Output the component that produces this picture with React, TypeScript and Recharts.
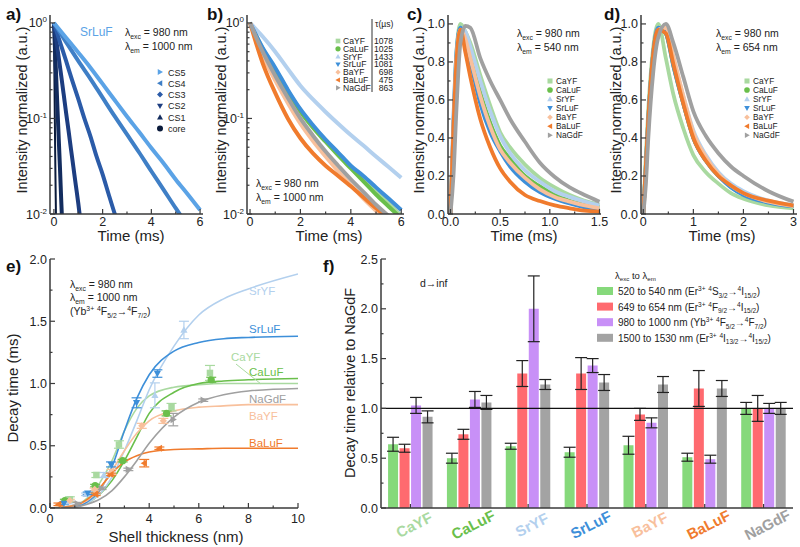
import React from "react";
import { ComposedChart, Line, Scatter, Bar, XAxis, YAxis, ErrorBar, ReferenceLine } from "recharts";

const W = 800;
const H = 547;
const FONT = '"Liberation Sans", Arial, Helvetica, sans-serif';
const AX = "#3a3a3a";

// hosts shared by panels b-f
const hosts = ["CaYF", "CaLuF", "SrYF", "SrLuF", "BaYF", "BaLuF", "NaGdF"];
const hostColor: Record<string, string> = {
  CaYF: "#a9d9a0", CaLuF: "#6abf4b", SrYF: "#b3d0ee", SrLuF: "#3d8fd9",
  BaYF: "#f8c09c", BaLuF: "#f07b2d", NaGdF: "#a0a0a0",
};
const hostShape: Record<string, string> = {
  CaYF: "square", CaLuF: "circle", SrYF: "triUp", SrLuF: "triDown",
  BaYF: "diamond", BaLuF: "triLeft", NaGdF: "triRight",
};

// a) SrLuF core / shells, 980 -> 1000 nm
const csNames = ["CS5", "CS4", "CS3", "CS2", "CS1", "core"];
const csColor: Record<string, string> = {
  CS5: "#5ba3e6", CS4: "#3f7fc6", CS3: "#2b5ba8", CS2: "#1d3d80", CS1: "#132c5e", core: "#0a1a3a",
};
const csShape: Record<string, string> = {
  CS5: "triRight", CS4: "triLeft", CS3: "diamond", CS2: "triDown", CS1: "triUp", core: "circle",
};
const tCS5 = [0, 0.5, 1, 1.5, 2, 2.5, 3, 3.5, 4, 4.5, 5, 5.5, 6];
const vCS5 = [1, 0.7, 0.49, 0.34, 0.23, 0.155, 0.105, 0.072, 0.049, 0.034, 0.023, 0.016, 0.011];
const tCS4 = [0, 0.5, 1, 1.5, 2, 2.5, 3, 3.5, 4, 4.5, 5, 5.5];
const vCS4 = [1, 0.63, 0.4, 0.26, 0.165, 0.105, 0.068, 0.044, 0.028, 0.018, 0.0115, 0.0075];
const tCS3 = [0, 0.25, 0.5, 0.75, 1, 1.25, 1.5, 1.75, 2, 2.25, 2.5, 2.75];
const vCS3 = [1, 0.63, 0.4, 0.25, 0.16, 0.1, 0.065, 0.04, 0.026, 0.016, 0.01, 0.0065];
const tCS2 = [0, 0.1, 0.2, 0.3, 0.4, 0.5, 0.6, 0.7, 0.8, 0.9, 1.0, 1.1];
const vCS2 = [1, 0.65, 0.43, 0.28, 0.18, 0.115, 0.075, 0.048, 0.031, 0.02, 0.013, 0.008];
const tCS1 = [0, 0.05, 0.1, 0.15, 0.2, 0.25, 0.3, 0.35];
const vCS1 = [1, 0.5, 0.25, 0.12, 0.06, 0.03, 0.014, 0.007];
const tCore = [0, 0.02, 0.04, 0.06, 0.08, 0.1];
const vCore = [1, 0.3, 0.09, 0.03, 0.012, 0.005];
const csT: Record<string, number[]> = { CS5: tCS5, CS4: tCS4, CS3: tCS3, CS2: tCS2, CS1: tCS1, core: tCore };
const csV: Record<string, number[]> = { CS5: vCS5, CS4: vCS4, CS3: vCS3, CS2: vCS2, CS1: vCS1, core: vCore };

// b) hosts, 980 -> 1000 nm (log)
const tB = [0, 0.5, 1, 1.5, 2, 2.5, 3, 3.5, 4, 4.5, 5, 5.5, 6];
const bCaYF = [1, 0.54, 0.33, 0.195, 0.122, 0.082, 0.059, 0.043, 0.031, 0.023, 0.017, 0.013, 0.0095];
const bCaLuF = [1, 0.53, 0.32, 0.19, 0.118, 0.08, 0.057, 0.041, 0.03, 0.022, 0.016, 0.012, 0.009];
const bSrYF = [1, 0.72, 0.5, 0.33, 0.22, 0.158, 0.117, 0.088, 0.067, 0.052, 0.04, 0.031, 0.024];
const bSrLuF = [1, 0.55, 0.34, 0.2, 0.125, 0.085, 0.06, 0.044, 0.032, 0.025, 0.019, 0.0145, 0.011];
const bBaYF = [1, 0.46, 0.25, 0.145, 0.088, 0.058, 0.04, 0.028, 0.02, 0.0145, 0.0108, 0.008, 0.006];
const bBaLuF = [1, 0.38, 0.185, 0.1, 0.062, 0.043, 0.032, 0.025, 0.0195, 0.015, 0.0115, 0.009, 0.007];
const bNaGdF = [1, 0.5, 0.28, 0.165, 0.1, 0.066, 0.045, 0.032, 0.023, 0.017, 0.0125, 0.0095, 0.007];
const bVals: Record<string, number[]> = {
  CaYF: bCaYF, CaLuF: bCaLuF, SrYF: bSrYF, SrLuF: bSrLuF, BaYF: bBaYF, BaLuF: bBaLuF, NaGdF: bNaGdF,
};
const tauB = ["1078", "1025", "1433", "1081", "698", "475", "863"];

// c) 980 -> 540 nm
const tC = [0, 0.03, 0.06, 0.1, 0.15, 0.2, 0.3, 0.4, 0.5, 0.6, 0.75, 0.9, 1.05, 1.2, 1.35, 1.5];
const cCaYF = [0, 0.45, 0.85, 1.0, 0.96, 0.9, 0.73, 0.57, 0.43, 0.35, 0.26, 0.19, 0.14, 0.1, 0.07, 0.05];
const cCaLuF = [0, 0.4, 0.8, 0.98, 0.93, 0.84, 0.64, 0.48, 0.36, 0.29, 0.2, 0.145, 0.1, 0.07, 0.05, 0.036];
const cSrYF = [0, 0.4, 0.8, 0.98, 0.96, 0.88, 0.7, 0.54, 0.41, 0.32, 0.23, 0.17, 0.12, 0.09, 0.065, 0.045];
const cSrLuF = [0, 0.5, 0.85, 0.98, 0.9, 0.8, 0.58, 0.43, 0.33, 0.25, 0.17, 0.115, 0.08, 0.055, 0.035, 0.022];
const cBaYF = [0, 0.45, 0.82, 0.97, 0.92, 0.82, 0.62, 0.46, 0.34, 0.27, 0.19, 0.13, 0.09, 0.065, 0.045, 0.03];
const cBaLuF = [0, 0.45, 0.8, 0.97, 0.85, 0.72, 0.5, 0.35, 0.24, 0.17, 0.1, 0.068, 0.045, 0.03, 0.018, 0.012];
const cNaGdF = [0, 0.2, 0.55, 0.9, 0.99, 0.98, 0.82, 0.7, 0.6, 0.5, 0.38, 0.27, 0.195, 0.14, 0.1, 0.065];
const cVals: Record<string, number[]> = {
  CaYF: cCaYF, CaLuF: cCaLuF, SrYF: cSrYF, SrLuF: cSrLuF, BaYF: cBaYF, BaLuF: cBaLuF, NaGdF: cNaGdF,
};

// d) 980 -> 654 nm
const tD = [0, 0.05, 0.1, 0.2, 0.3, 0.45, 0.6, 0.8, 1.0, 1.25, 1.5, 1.75, 2.0, 2.5, 3.0];
const dCaYF = [0, 0.3, 0.55, 0.88, 1.0, 0.82, 0.63, 0.45, 0.31, 0.22, 0.16, 0.11, 0.08, 0.045, 0.03];
const dCaLuF = [0, 0.25, 0.5, 0.85, 0.98, 0.95, 0.78, 0.58, 0.4, 0.28, 0.2, 0.15, 0.11, 0.065, 0.042];
const dSrYF = [0, 0.25, 0.5, 0.85, 0.98, 0.97, 0.82, 0.62, 0.44, 0.31, 0.22, 0.16, 0.12, 0.07, 0.045];
const dSrLuF = [0, 0.25, 0.5, 0.85, 0.98, 0.95, 0.78, 0.58, 0.4, 0.28, 0.2, 0.14, 0.1, 0.06, 0.04];
const dBaYF = [0, 0.2, 0.45, 0.82, 0.97, 0.98, 0.83, 0.62, 0.43, 0.3, 0.21, 0.15, 0.11, 0.065, 0.042];
const dBaLuF = [0, 0.25, 0.5, 0.85, 0.97, 0.95, 0.79, 0.58, 0.4, 0.28, 0.2, 0.15, 0.11, 0.07, 0.045];
const dNaGdF = [0, 0.15, 0.4, 0.75, 0.93, 1.0, 0.9, 0.72, 0.54, 0.41, 0.32, 0.25, 0.2, 0.12, 0.065];
const dVals: Record<string, number[]> = {
  CaYF: dCaYF, CaLuF: dCaLuF, SrYF: dSrYF, SrLuF: dSrLuF, BaYF: dBaYF, BaLuF: dBaLuF, NaGdF: dNaGdF,
};

// e) decay time vs shell thickness: fitted curves
const xE = [0, 1, 1.5, 2, 2.5, 3, 3.5, 4, 5, 6, 7, 8, 10];
const eFitCaYF = [0, 0.02, 0.08, 0.2, 0.38, 0.62, 0.8, 0.9, 0.97, 0.99, 1.0, 1.0, 1.0];
const eFitCaLuF = [0, 0.01, 0.04, 0.11, 0.22, 0.38, 0.57, 0.76, 0.93, 1.0, 1.02, 1.03, 1.04];
const eFitSrYF = [0, 0.01, 0.04, 0.11, 0.25, 0.46, 0.7, 0.95, 1.3, 1.55, 1.68, 1.76, 1.88];
const eFitSrLuF = [0, 0.01, 0.05, 0.14, 0.33, 0.62, 0.88, 1.07, 1.26, 1.33, 1.36, 1.37, 1.38];
const eFitBaYF = [0, 0.02, 0.06, 0.15, 0.3, 0.46, 0.6, 0.7, 0.78, 0.81, 0.82, 0.83, 0.83];
const eFitBaLuF = [0, 0.02, 0.07, 0.16, 0.28, 0.37, 0.42, 0.45, 0.47, 0.475, 0.48, 0.48, 0.48];
const eFitNaGdF = [0, 0.005, 0.03, 0.07, 0.14, 0.25, 0.38, 0.52, 0.73, 0.85, 0.91, 0.94, 0.96];
const eFit: Record<string, number[]> = {
  CaYF: eFitCaYF, CaLuF: eFitCaLuF, SrYF: eFitSrYF, SrLuF: eFitSrLuF, BaYF: eFitBaYF, BaLuF: eFitBaLuF, NaGdF: eFitNaGdF,
};
// e) measured points
const ePtX: Record<string, number[]> = {
  CaYF: [0.8, 1.87, 2.78, 4.9, 6.45],
  CaLuF: [0.6, 1.82, 2.93, 4.7, 6.5],
  SrYF: [0.75, 1.45, 2.17, 4.23, 5.4],
  SrLuF: [0.56, 1.52, 2.46, 3.49, 4.33],
  BaYF: [0.8, 1.8, 2.49, 3.7, 4.57],
  BaLuF: [0.34, 1.84, 2.46, 3.8, 4.41],
  NaGdF: [1.1, 2.08, 3.16, 4.97, 6.18],
};
const ePtY: Record<string, number[]> = {
  CaYF: [0.07, 0.265, 0.51, 0.81, 1.085],
  CaLuF: [0.06, 0.18, 0.38, 0.76, 1.03],
  SrYF: [0.05, 0.11, 0.265, 0.905, 1.43],
  SrLuF: [0.037, 0.118, 0.35, 0.845, 1.08],
  BaYF: [0.06, 0.15, 0.29, 0.66, 0.7],
  BaLuF: [0.03, 0.11, 0.27, 0.36, 0.48],
  NaGdF: [0.035, 0.158, 0.31, 0.71, 0.866],
};
const ePtErr: Record<string, number[]> = {
  CaYF: [0.02, 0.02, 0.03, 0.03, 0.06],
  CaLuF: [0.01, 0.01, 0.01, 0.02, 0.02],
  SrYF: [0.01, 0.01, 0.02, 0.1, 0.07],
  SrLuF: [0.01, 0.01, 0.02, 0.04, 0.03],
  BaYF: [0.01, 0.01, 0.02, 0.02, 0.02],
  BaLuF: [0.01, 0.01, 0.01, 0.03, 0.01],
  NaGdF: [0.01, 0.01, 0.01, 0.05, 0.01],
};

// f) decay time relative to NaGdF
const fGreen = [0.64, 0.5, 0.62, 0.56, 0.63, 0.51, 1.0];
const fGreenErr = [0.07, 0.05, 0.03, 0.05, 0.09, 0.04, 0.06];
const fRed = [0.6, 0.74, 1.35, 1.35, 0.94, 1.2, 1.0];
const fRedErr = [0.04, 0.05, 0.13, 0.16, 0.06, 0.18, 0.13];
const fPurple = [1.03, 1.09, 2.0, 1.43, 0.855, 0.49, 1.0];
const fPurpleErr = [0.08, 0.08, 0.33, 0.07, 0.05, 0.04, 0.05];
const fGray = [0.915, 1.06, 1.24, 1.26, 1.24, 1.2, 1.0];
const fGrayErr = [0.06, 0.07, 0.05, 0.08, 0.08, 0.08, 0.06];
const fLegend = [
  "520 to 540 nm (Er^{3+} ^{4}S_{3/2}→^{4}I_{15/2})",
  "649 to 654 nm (Er^{3+} ^{4}F_{9/2}→^{4}I_{15/2})",
  "980 to 1000 nm (Yb^{3+} ^{4}F_{5/2}→^{4}F_{7/2})",
  "1500 to 1530 nm (Er^{3+} ^{4}I_{13/2}→^{4}I_{15/2})",
];
const fColors = ["#86d97b", "#ff6a6f", "#c890f7", "#a3a3a3"];

// tick lists
const logTicks = [0.01, 0.02, 0.03, 0.04, 0.05, 0.06, 0.07, 0.08, 0.09, 0.1, 0.2, 0.3, 0.4, 0.5, 0.6, 0.7, 0.8, 0.9, 1];
const logMajor = [0.01, 0.1, 1];
const abXTicks = [0, 1, 2, 3, 4, 5, 6];
const abXMajor = [0, 2, 4, 6];
const cXTicks = [0, 0.25, 0.5, 0.75, 1, 1.25, 1.5];
const cXMajor = [0, 0.5, 1, 1.5];
const dXTicks = [0, 0.5, 1, 1.5, 2, 2.5, 3];
const dXMajor = [0, 1, 2, 3];
const cdYTicks = [0, 0.1, 0.2, 0.3, 0.4, 0.5, 0.6, 0.7, 0.8, 0.9, 1.0];
const cdYMajor = [0, 0.2, 0.4, 0.6, 0.8, 1.0];
const eXTicks = [0, 1, 2, 3, 4, 5, 6, 7, 8, 9, 10];
const eXMajor = [0, 2, 4, 6, 8, 10];
const eYTicks = [0, 0.25, 0.5, 0.75, 1, 1.25, 1.5, 1.75, 2];
const eYMajor = [0, 0.5, 1, 1.5, 2];
const fYTicks = [0, 0.25, 0.5, 0.75, 1, 1.25, 1.5, 1.75, 2, 2.25, 2.5];
const fYMajor = [0, 0.5, 1, 1.5, 2, 2.5];
const fTopTicks = [0, 0.5, 1, 1.5, 2, 2.5, 3, 3.5, 4, 4.5, 5, 5.5, 6, 6.5, 7];

const zip = (t: number[], v: number[]) => t.map((x, i) => ({ t: x, v: v[i] }));

function Marker({ cx, cy, shape, r = 3.5, fill }: any) {
  const k = r * 0.9;
  switch (shape) {
    case "square": return <rect x={cx - k} y={cy - k} width={2 * k} height={2 * k} fill={fill} />;
    case "circle": return <circle cx={cx} cy={cy} r={r} fill={fill} />;
    case "triUp": return <polygon points={`${cx},${cy - r} ${cx + r},${cy + r * 0.75} ${cx - r},${cy + r * 0.75}`} fill={fill} />;
    case "triDown": return <polygon points={`${cx},${cy + r} ${cx + r},${cy - r * 0.75} ${cx - r},${cy - r * 0.75}`} fill={fill} />;
    case "triLeft": return <polygon points={`${cx - r},${cy} ${cx + r * 0.75},${cy - r} ${cx + r * 0.75},${cy + r}`} fill={fill} />;
    case "triRight": return <polygon points={`${cx + r},${cy} ${cx - r * 0.75},${cy - r} ${cx - r * 0.75},${cy + r}`} fill={fill} />;
    default: return <polygon points={`${cx},${cy - r} ${cx + r},${cy} ${cx},${cy + r} ${cx - r},${cy}`} fill={fill} />;
  }
}

// text with ^{sup} and _{sub}
function rich(s: string, fs: number) {
  const parts = s.split(/(\^\{[^}]*\}|_\{[^}]*\})/).filter((p) => p !== "");
  let off = 0;
  return parts.map((p, i) => {
    let target = 0;
    let txt = p;
    let size = fs;
    if (p.startsWith("^{")) { target = -fs * 0.4; txt = p.slice(2, -1); size = fs * 0.65; }
    else if (p.startsWith("_{")) { target = fs * 0.25; txt = p.slice(2, -1); size = fs * 0.65; }
    const dy = target - off;
    off = target;
    return <tspan key={i} dy={dy} fontSize={size}>{txt}</tspan>;
  });
}

// inward ticks, labels only on majors
function mkTick(side: string, majors: number[], fmt: ((v: number) => any) | null, labelDy = 12) {
  return (p: any) => {
    const { x, y, payload } = p;
    const v = payload.value;
    const major = majors.some((m) => Math.abs(m - v) < 1e-6);
    const L = major ? 5 : 2.5;
    let c = [x, y, x, y - L];
    if (side === "left") c = [x, y, x + L, y];
    if (side === "right") c = [x, y, x - L, y];
    if (side === "top") c = [x, y, x, y + L];
    return (
      <g>
        <line x1={c[0]} y1={c[1]} x2={c[2]} y2={c[3]} stroke={AX} strokeWidth={1.2} />
        {major && fmt && side === "left" && (
          <text x={x - 3} y={y + 4.5} textAnchor="end" fontSize={12.5} fontFamily={FONT} fill="#222">{fmt(v)}</text>
        )}
        {major && fmt && side === "bottom" && (
          <text x={x} y={y + labelDy} textAnchor="middle" fontSize={12.5} fontFamily={FONT} fill="#222">{fmt(v)}</text>
        )}
      </g>
    );
  };
}

const logFmt = (v: number) => (
  <>
    10<tspan dy={-5} fontSize={8}>{String(Math.round(Math.log10(v)))}</tspan>
  </>
);
const fix1 = (v: number) => v.toFixed(1);
const int0 = (v: number) => String(v);

const axLine = { stroke: AX, strokeWidth: 1.5 };

function frame(o: any) {
  return [
    <XAxis key="xb" xAxisId={0} type="number" dataKey="t" domain={o.xDomain} ticks={o.xTicks} interval={0}
      height={H - o.B} tickSize={0} tickMargin={0} tickLine={false} axisLine={axLine} allowDataOverflow
      tick={mkTick("bottom", o.xMajor, o.xFmt, o.xDy)} />,
    <XAxis key="xt" xAxisId="t" orientation="top" type="number" domain={o.xDomain} ticks={o.xTicks} interval={0}
      height={0} tickSize={0} tickMargin={0} tickLine={false} axisLine={axLine} allowDataOverflow
      tick={mkTick("top", o.xMajor, null)} />,
    <YAxis key="yl" yAxisId={0} type="number" dataKey="v" scale={o.yScale || "auto"} domain={o.yDomain} ticks={o.yTicks}
      interval={0} width={o.L} tickSize={0} tickMargin={0} tickLine={false} axisLine={axLine} allowDataOverflow
      tick={mkTick("left", o.yMajor, o.yFmt)} />,
    <YAxis key="yr" yAxisId="r" orientation="right" type="number" scale={o.yScale || "auto"} domain={o.yDomain}
      ticks={o.yTicks} interval={0} width={0} tickSize={0} tickMargin={0} tickLine={false} axisLine={axLine}
      allowDataOverflow tick={mkTick("right", o.yMajor, null)} />,
  ];
}

const abs: React.CSSProperties = { position: "absolute", left: 0, top: 0 };

function fXTick(p: any) {
  const { x, y, payload } = p;
  const n = payload.value;
  return (
    <g>
      <line x1={x} x2={x} y1={y} y2={y - 4} stroke={AX} strokeWidth={1.2} />
      <text x={x + 4} y={y + 22} textAnchor="middle" transform={`rotate(-27 ${x + 4} ${y + 17})`}
        fill={hostColor[n]} fontWeight="bold" fontSize={15} fontFamily={FONT}>{n}</text>
    </g>
  );
}

function Overlay() {
  const letters: [string, number, number][] = [
    ["a)", 6, 20], ["b)", 207, 20], ["c)", 407, 20], ["d)", 604, 20], ["e)", 6, 272], ["f)", 323, 272],
  ];
  const yTitles: [string, number, number][] = [
    ["Intensity normalized (a.u.)", 27, 110], ["Intensity normalized (a.u.)", 226, 110],
    ["Intensity normalized (a.u.)", 424, 110], ["Intensity normalized (a.u.)", 621, 110],
  ];
  const xTitles: [number, number][] = [[131, 241], [329, 241], [524, 241], [722, 241]];
  const lam = (x: number, y: number, s: string, fs = 10.5) => (
    <text x={x} y={y} fontSize={fs} fill="#222">{rich(s, fs)}</text>
  );
  return (
    <svg width={W} height={H} style={{ ...abs, pointerEvents: "none" }} fontFamily={FONT}>
      {letters.map(([s, x, y]) => (
        <text key={s} x={x} y={y} fontSize={17} fontWeight="bold" fill="#111">{s}</text>
      ))}
      {yTitles.map(([s, x, y], i) => (
        <text key={i} x={x} y={y} fontSize={14.5} textAnchor="middle" transform={`rotate(-90 ${x} ${y})`} fill="#222">{s}</text>
      ))}
      {xTitles.map(([x, y], i) => (
        <text key={i} x={x} y={y} fontSize={15} textAnchor="middle" fill="#222">Time (ms)</text>
      ))}

      {/* a */}
      <text x={80} y={36} fontSize={12} fill="#5ba3e6">SrLuF</text>
      {lam(125, 36, "λ_{exc} = 980 nm")}
      {lam(125, 50, "λ_{em} = 1000 nm")}
      {csNames.map((n, i) => (
        <g key={n}>
          <Marker cx={160} cy={72 + i * 11.3} shape={csShape[n]} r={3} fill={csColor[n]} />
          <text x={168} y={75.5 + i * 11.3} fontSize={9} fill="#222">{n}</text>
        </g>
      ))}

      {/* b */}
      <text x={375} y={27} fontSize={8.6} fill="#222">τ(µs)</text>
      <line x1={372} x2={372} y1={19} y2={92} stroke="#333" strokeWidth={1} />
      {hosts.map((n, i) => (
        <g key={n}>
          <Marker cx={338} cy={41 + i * 7.8} shape={hostShape[n]} r={2.6} fill={hostColor[n]} />
          <text x={343} y={44 + i * 7.8} fontSize={8.6} fill="#222">{n}</text>
          <text x={393} y={44 + i * 7.8} fontSize={8.6} textAnchor="end" fill="#222">{tauB[i]}</text>
        </g>
      ))}
      {lam(256, 187, "λ_{exc} = 980 nm")}
      {lam(256, 201, "λ_{em} = 1000 nm")}

      {/* c, d */}
      {lam(517, 37, "λ_{exc} = 980 nm")}
      {lam(517, 51, "λ_{em} = 540 nm")}
      {lam(716, 37, "λ_{exc} = 980 nm")}
      {lam(716, 51, "λ_{em} = 654 nm")}
      {[550, 747].map((mx) =>
        hosts.map((n, i) => (
          <g key={mx + n}>
            <Marker cx={mx} cy={81 + i * 9.05} shape={hostShape[n]} r={2.8} fill={hostColor[n]} />
            <text x={mx + 6} y={84 + i * 9.05} fontSize={8.3} fill="#222">{n}</text>
          </g>
        ))
      )}

      {/* e */}
      <text x={18} y={388} fontSize={15} textAnchor="middle" transform="rotate(-90 18 388)" fill="#222">Decay time (ms)</text>
      <text x={176} y={542} fontSize={15} textAnchor="middle" fill="#222">Shell thickness (nm)</text>
      {lam(70, 288, "λ_{exc} = 980 nm", 10.5)}
      {lam(70, 301, "λ_{em} = 1000 nm", 10.5)}
      {lam(70, 315, "(Yb^{3+} ^{4}F_{5/2}→^{4}F_{7/2})", 10.5)}
      <text x={249} y={295} fontSize={11.5} fill={hostColor.SrYF}>SrYF</text>
      <text x={249} y={333} fontSize={11.5} fill={hostColor.SrLuF}>SrLuF</text>
      <text x={231} y={361} fontSize={11.5} fill={hostColor.CaYF}>CaYF</text>
      <line x1={236} y1={364} x2={261} y2={384} stroke={hostColor.CaYF} strokeWidth={1} />
      <text x={249} y={376} fontSize={11.5} fill={hostColor.CaLuF}>CaLuF</text>
      <text x={249} y={403} fontSize={11.5} fill={hostColor.NaGdF}>NaGdF</text>
      <text x={249} y={420} fontSize={11.5} fill={hostColor.BaYF}>BaYF</text>
      <text x={249} y={447} fontSize={11.5} fill={hostColor.BaLuF}>BaLuF</text>

      {/* f */}
      <text x={355} y={383} fontSize={14.5} textAnchor="middle" transform="rotate(-90 355 383)" fill="#222">Decay time relative to NaGdF</text>
      <text x={420} y={287} fontSize={10.5} fill="#222">d→inf</text>
      {lam(615, 279, "λ_{exc} to λ_{em}", 9.5)}
      {fLegend.map((s, i) => (
        <g key={i}>
          <rect x={597} y={287 + i * 15.6} width={16} height={8} fill={fColors[i]} />
          <text x={618} y={295 + i * 15.6} fontSize={10} fill="#222">{rich(s, 10)}</text>
        </g>
      ))}
    </svg>
  );
}

export default function App() {
  const fRows = hosts.map((n, i) => ({
    name: n,
    g: fGreen[i], gE: fGreenErr[i],
    r: fRed[i], rE: fRedErr[i],
    p: fPurple[i], pE: fPurpleErr[i],
    k: fGray[i], kE: fGrayErr[i],
  }));
  const top = { top: 15, left: 0, bottom: 0 };
  return (
    <div style={{ ...abs, width: W, height: H, background: "#fff", fontFamily: FONT, overflow: "hidden" }}>
      {/* a */}
      <div style={abs}>
        <ComposedChart width={W} height={H} margin={{ ...top, right: W - 203 }}>
          {frame({ L: 50, B: 214, xDomain: [-0.16, 6.12], xTicks: abXTicks, xMajor: abXMajor, xFmt: int0,
            yScale: "log", yDomain: [0.01, 1.21], yTicks: logTicks, yMajor: logMajor, yFmt: logFmt })}
          {csNames.slice().reverse().map((n) => (
            <Line key={n} data={zip(csT[n], csV[n])} dataKey="v" type="monotone" stroke={csColor[n]}
              strokeWidth={n === "core" ? 2 : 4} dot={false} isAnimationActive={false} />
          ))}
        </ComposedChart>
      </div>
      {/* b */}
      <div style={abs}>
        <ComposedChart width={W} height={H} margin={{ ...top, right: W - 404 }}>
          {frame({ L: 247, B: 214, xDomain: [-0.12, 6.11], xTicks: abXTicks, xMajor: abXMajor, xFmt: int0,
            yScale: "log", yDomain: [0.01, 1.21], yTicks: logTicks, yMajor: logMajor, yFmt: logFmt })}
          {hosts.map((n) => (
            <Line key={n} data={zip(tB, bVals[n])} dataKey="v" type="monotone" stroke={hostColor[n]}
              strokeWidth={4} dot={false} isAnimationActive={false} />
          ))}
        </ComposedChart>
      </div>
      {/* c */}
      <div style={abs}>
        <ComposedChart width={W} height={H} margin={{ ...top, right: W - 601 }}>
          {frame({ L: 448, B: 214, xDomain: [-0.025, 1.515], xTicks: cXTicks, xMajor: cXMajor, xFmt: fix1,
            yDomain: [0, 1.047], yTicks: cdYTicks, yMajor: cdYMajor, yFmt: fix1 })}
          {hosts.map((n) => (
            <Line key={n} data={zip(tC, cVals[n])} dataKey="v" type="monotone" stroke={hostColor[n]}
              strokeWidth={3.8} dot={false} isAnimationActive={false} />
          ))}
        </ComposedChart>
      </div>
      {/* d */}
      <div style={abs}>
        <ComposedChart width={W} height={H} margin={{ ...top, right: W - 797 }}>
          {frame({ L: 641, B: 214, xDomain: [-0.046, 3.07], xTicks: dXTicks, xMajor: dXMajor, xFmt: int0,
            yDomain: [0, 1.047], yTicks: cdYTicks, yMajor: cdYMajor, yFmt: fix1 })}
          {hosts.map((n) => (
            <Line key={n} data={zip(tD, dVals[n])} dataKey="v" type="monotone" stroke={hostColor[n]}
              strokeWidth={3.8} dot={false} isAnimationActive={false} />
          ))}
        </ComposedChart>
      </div>
      {/* e */}
      <div style={abs}>
        <ComposedChart width={W} height={H} margin={{ top: 259, left: 0, bottom: 0, right: W - 298 }}>
          {frame({ L: 50, B: 508, xDomain: [0, 10], xTicks: eXTicks, xMajor: eXMajor, xFmt: int0, xDy: 15,
            yDomain: [0, 2], yTicks: eYTicks, yMajor: eYMajor, yFmt: fix1 })}
          {hosts.map((n) => (
            <Line key={n} data={zip(xE, eFit[n])} dataKey="v" type="monotone" stroke={hostColor[n]}
              strokeWidth={1.6} dot={false} isAnimationActive={false} />
          ))}
          {hosts.map((n) => (
            <Scatter key={"s" + n}
              data={ePtX[n].map((x, i) => ({ t: x, v: ePtY[n][i], err: ePtErr[n][i] }))}
              fill={hostColor[n]} isAnimationActive={false}
              shape={(p: any) => <Marker cx={p.cx} cy={p.cy} shape={hostShape[n]} r={3.6} fill={hostColor[n]} />}>
              <ErrorBar dataKey="err" direction="y" width={5} stroke={hostColor[n]} strokeWidth={1.2} />
            </Scatter>
          ))}
        </ComposedChart>
      </div>
      {/* f */}
      <div style={abs}>
        <ComposedChart width={W} height={H} data={fRows} barCategoryGap="12%" barGap={1.5}
          margin={{ top: 259, left: 0, bottom: 0, right: W - 793 }}>
          <XAxis xAxisId={0} dataKey="name" type="category" height={H - 508} tickSize={0} tickMargin={0}
            tickLine={false} axisLine={axLine} interval={0} tick={fXTick} />
          <XAxis xAxisId="t" orientation="top" type="number" domain={[0, 7]} ticks={fTopTicks} interval={0}
            height={0} tickSize={0} tickMargin={0} tickLine={false} axisLine={axLine} allowDataOverflow
            tick={mkTick("top", fTopTicks, null)} />
          <YAxis yAxisId={0} type="number" domain={[0, 2.5]} ticks={fYTicks} interval={0} width={381}
            tickSize={0} tickMargin={0} tickLine={false} axisLine={axLine} allowDataOverflow
            tick={mkTick("left", fYMajor, fix1)} />
          <YAxis yAxisId="r" orientation="right" type="number" domain={[0, 2.5]} ticks={fYTicks} interval={0}
            width={0} tickSize={0} tickMargin={0} tickLine={false} axisLine={axLine} allowDataOverflow
            tick={mkTick("right", fYMajor, null)} />
          <Bar dataKey="g" fill={fColors[0]} isAnimationActive={false}>
            <ErrorBar dataKey="gE" direction="y" width={6} stroke="#222" strokeWidth={1.2} />
          </Bar>
          <Bar dataKey="r" fill={fColors[1]} isAnimationActive={false}>
            <ErrorBar dataKey="rE" direction="y" width={6} stroke="#222" strokeWidth={1.2} />
          </Bar>
          <Bar dataKey="p" fill={fColors[2]} isAnimationActive={false}>
            <ErrorBar dataKey="pE" direction="y" width={6} stroke="#222" strokeWidth={1.2} />
          </Bar>
          <Bar dataKey="k" fill={fColors[3]} isAnimationActive={false}>
            <ErrorBar dataKey="kE" direction="y" width={6} stroke="#222" strokeWidth={1.2} />
          </Bar>
          <ReferenceLine y={1} stroke="#111" strokeWidth={1.3} />
        </ComposedChart>
      </div>
      <Overlay />
    </div>
  );
}
